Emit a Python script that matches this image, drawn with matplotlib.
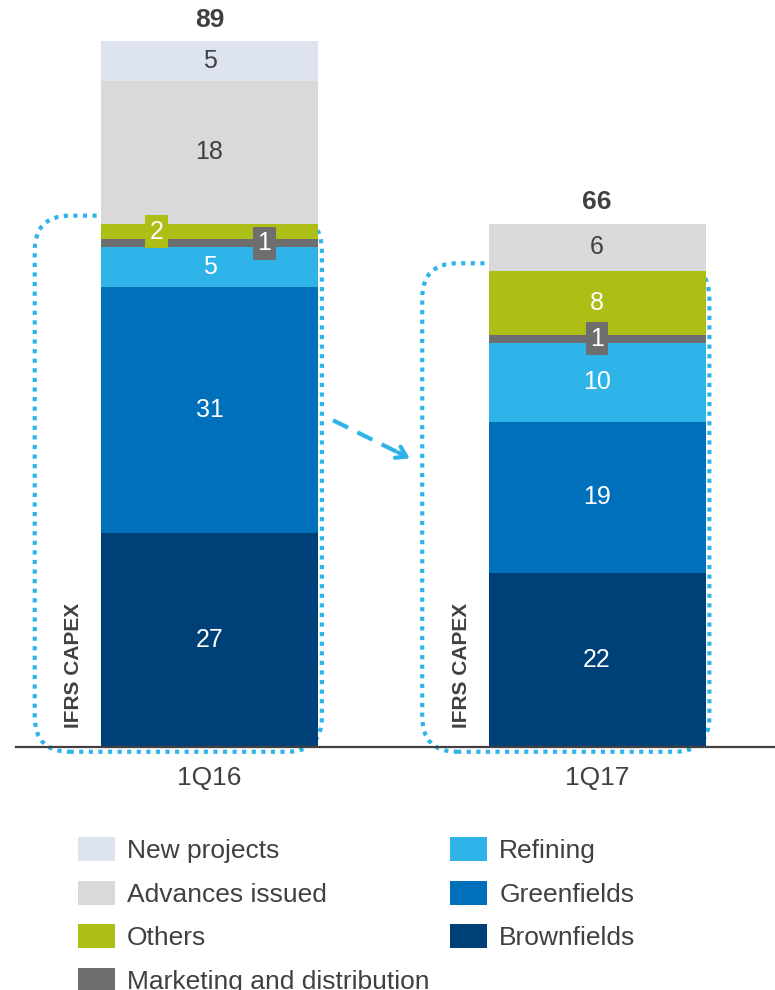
import numpy as np
import matplotlib
matplotlib.use("Agg")
import matplotlib.pyplot as plt
from matplotlib.patches import FancyBboxPatch, Patch

plt.rcParams['font.family'] = ['Liberation Sans', 'DejaVu Sans']

periods = ["1Q16", "1Q17"]
series = ["Brownfields", "Greenfields", "Refining", "Marketing and distribution",
          "Others", "Advances issued", "New projects"]
brownfields = [27, 22]
greenfields = [31, 19]
refining = [5, 10]
marketing = [1, 1]
others = [2, 8]
advances = [18, 6]
new_projects = [5, 0]
totals = [89, 66]

values = [brownfields, greenfields, refining, marketing, others, advances, new_projects]
colors = ["#004078", "#0070bb", "#2fb4e9", "#6e6e6e", "#adbe16", "#d9d9d9", "#dde4ef"]
text_colors = ["white", "white", "white", "white", "white", "#404040", "#404040"]
boxed = ["Marketing and distribution", "Others"]
# label x offsets for the thin segments of 1Q16
label_dx = {(0, "Others"): -0.137, (0, "Marketing and distribution"): 0.142}

dark = "#404040"
dot_blue = "#2eb4e8"

px_y = 7.93     # pixels per unit
px_x = 387.5    # pixels per category step

fig = plt.figure(figsize=(7.75, 9.9), dpi=100)
ax = fig.add_axes([0, 0, 1, 1])
ax.set_xlim(-209.5 / px_x, (775 - 209.5) / px_x)
ax.set_ylim(-243 / px_y, 747 / px_y)
ax.axis("off")

x = np.arange(len(periods))
width = 0.56
bottom = np.zeros(len(periods))
for name, vals, col, tcol in zip(series, values, colors, text_colors):
    vals = np.array(vals, dtype=float)
    ax.bar(x, vals, width, bottom=bottom, color=col, zorder=3)
    for i, v in enumerate(vals):
        if v == 0:
            continue
        cx = x[i] + label_dx.get((i, name), 0)
        cy = bottom[i] + v / 2
        if name in boxed:
            ax.text(cx, cy, f"{v:g}", ha="center", va="center", fontsize=18,
                    color="white", zorder=5,
                    bbox=dict(boxstyle="square,pad=0.18", fc=col, ec="none"))
        else:
            ax.text(cx, cy, f"{v:g}", ha="center", va="center", fontsize=18,
                    color=tcol, zorder=5)
    bottom += vals

for i, t in enumerate(totals):
    ax.text(x[i], t + 2.7, str(t), ha="center", va="center", fontsize=19,
            fontweight="bold", color=dark)
    ax.text(x[i], -3.9, periods[i], ha="center", va="center", fontsize=19, color=dark)

# IFRS capex boxes
ifrs = np.array(brownfields) + np.array(greenfields) + np.array(refining) \
    + np.array(marketing) + np.array(others)
for i, top in enumerate(ifrs):
    x0 = x[i] - 0.451
    x1 = x[i] + 0.29
    y0 = -0.6
    y1 = top + 1.0
    box = FancyBboxPatch((x0, y0), x1 - x0, y1 - y0,
                         boxstyle="round,pad=0,rounding_size=0.09",
                         mutation_aspect=px_x / px_y, fill=False,
                         ec=dot_blue, lw=3, linestyle=(0, (1.0, 1.3)), zorder=1)
    ax.add_patch(box)
    ax.text(x[i] - 0.35, 10.3, "IFRS CAPEX", rotation=90, ha="center", va="center",
            fontsize=15, fontweight="bold", color=dark)

ax.axhline(0, xmin=16 / 775, xmax=1, color=dark, lw=1.6, zorder=4)

# arrow between the boxes
start = (0.319, 41.2)
end = (0.517, 36.4)
ax.plot([start[0], end[0] - 0.01], [start[1], end[1] + 0.25], color=dot_blue, lw=3,
        linestyle=(0, (4, 2.5)), solid_capstyle="butt")
ax.annotate("", xy=end, xytext=(end[0] - 0.03, end[1] + 0.74),
            arrowprops=dict(arrowstyle="->,head_length=0.7,head_width=0.45",
                            color=dot_blue, lw=3, shrinkA=0, shrinkB=0))

# legend
leg_order = ["New projects", "Advances issued", "Others", "Marketing and distribution",
             "Refining", "Greenfields", "Brownfields"]
handles = [Patch(facecolor=colors[series.index(n)], edgecolor="none", label=n)
           for n in leg_order]
fig.legend(handles=handles, ncol=2, loc="upper left",
           bbox_to_anchor=(78 / 775, 1 - 837 / 990), frameon=False,
           fontsize=19, handlelength=1.4, handleheight=1.02, handletextpad=0.45,
           labelspacing=0.67, columnspacing=0.8, borderpad=0, borderaxespad=0,
           labelcolor=dark)

fig.savefig("out.png", dpi=100)
